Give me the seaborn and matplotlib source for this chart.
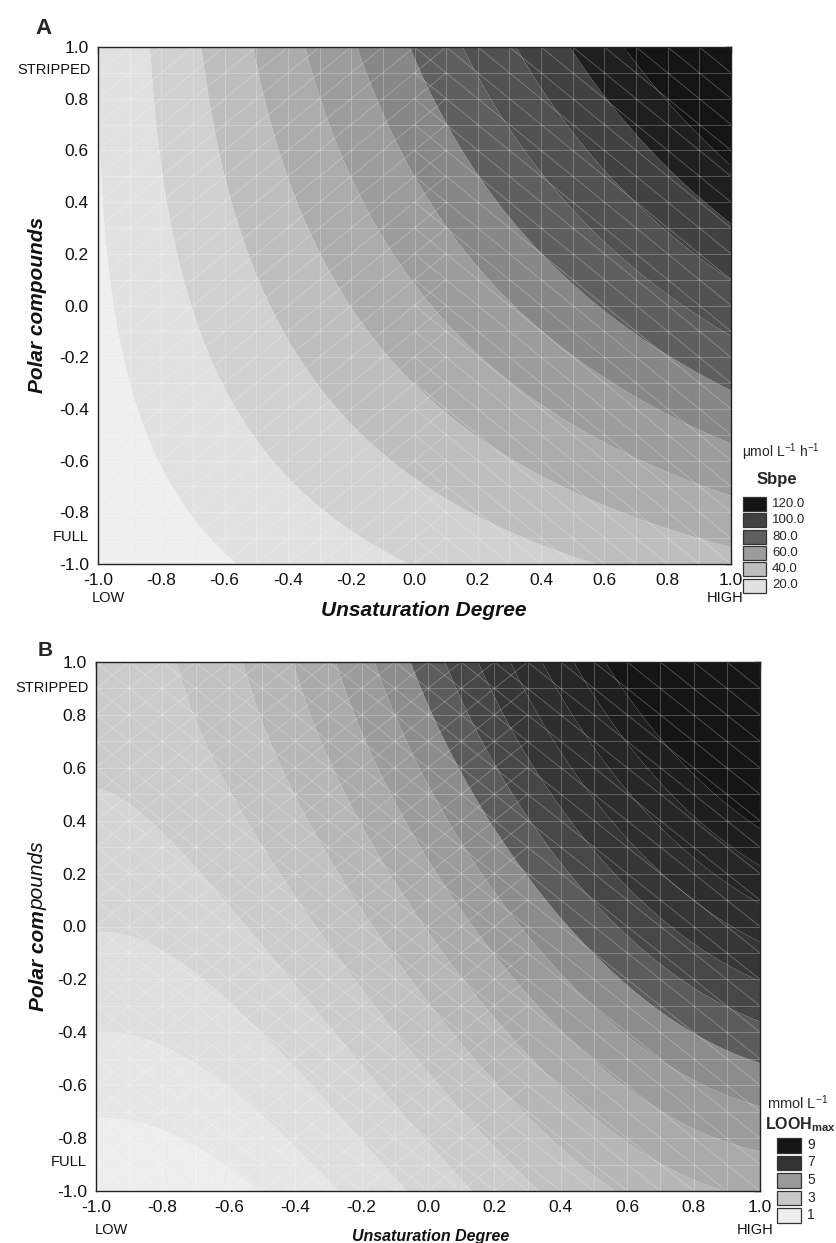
import numpy as np
import matplotlib
matplotlib.use("Agg")
import matplotlib.pyplot as plt
import seaborn as sns
from matplotlib.patches import Rectangle
from matplotlib.collections import LineCollection

sns.set_theme(style="white")
plt.rcParams['font.family'] = ['Liberation Sans', 'DejaVu Sans']
plt.rcParams['mathtext.fontset'] = 'custom'
plt.rcParams['mathtext.rm'] = 'Liberation Sans'
plt.rcParams['mathtext.bf'] = 'Liberation Sans:bold'
plt.rcParams['mathtext.default'] = 'regular'
plt.rcParams['axes.unicode_minus'] = False

# ---------------- Panel A data (Sbpe, contour crossings) ----
a_levels = [20, 30, 40, 50, 60, 70, 80, 90, 100, 110, 120]
a_colors = ['#efefef', '#e1e1e1', '#d1d1d1', '#bebebe', '#acacac', '#9c9c9c',
            '#878787', '#5f5f5f', '#515151', '#414141', '#1f1f1f', '#141414']
a_top_x = [-0.84, -0.675, -0.505, -0.348, -0.171, -0.014, 0.156, 0.31, 0.49, 0.67]
a_top_v = [30, 40, 50, 60, 70, 80, 90, 100, 110, 120]
a_right_y = [-0.94, -0.734, -0.494, -0.33, -0.114, 0.076, 0.30]
a_right_v = [50, 60, 70, 80, 90, 100, 110]
a_bot_x = [-0.54, -0.016, 0.50]
a_bot_v = [20, 30, 40]
a_left_y = [0.80]
a_left_v = [20]
a_leg_labels = ['120.0', '100.0', '80.0', '60.0', '40.0', '20.0']
a_leg_colors = ['#141414', '#414141', '#5f5f5f', '#9c9c9c', '#bebebe', '#e1e1e1']

# ---------------- Panel B data (LOOHmax, values read at sample points) ----
b_levels = [1, 1.5, 2, 2.5, 3, 3.5, 4, 4.5, 5, 5.5, 6, 6.5, 7, 7.5, 8, 8.5, 9]
b_colors = ['#f2f2f2', '#ededed', '#e6e6e6', '#dedede', '#d5d5d5', '#cbcbcb',
            '#c1c1c1', '#b6b6b6', '#aaaaaa', '#9b9b9b', '#8c8c8c', '#5c5c5c',
            '#474747', '#363636', '#2e2e2e', '#262626', '#1e1e1e', '#151515']
# top edge (y = 1)
b_top_x = [-1.0, -0.5, 0.0, 0.05, 0.2, 0.4, 0.7, 1.0]
b_top_v = [3.3, 4.1, 5.6, 6.3, 7.5, 9.0, 10.0, 11.0]
# right edge (x = 1)
b_right_y = [0.7, 0.4, 0.1, -0.3, -0.5, -0.75, -1.0]
b_right_v = [10.0, 9.0, 8.0, 7.0, 6.2, 5.3, 4.6]
# bottom edge (y = -1)
b_bot_x = [-1.0, -0.75, -0.5, 0.0, 0.5]
b_bot_v = [0.8, 1.3, 1.8, 2.7, 3.6]
# left edge (x = -1)
b_left_y = [-0.75, -0.5, 0.0, 0.5]
b_left_v = [1.3, 1.8, 2.5, 3.0]
# interior
b_in_x = [0.0, 0.5, -0.5, 0.5, -0.5, 0.5, 0.0, 0.7, -0.75, -0.75, -0.25, -0.75, -0.75]
b_in_y = [0.0, 0.5, -0.5, -0.5, 0.5, 0.0, 0.5, 0.7, -0.75, -0.25, -0.75, 0.0, 0.5]
b_in_v = [4.6, 8.0, 2.2, 4.8, 3.6, 5.8, 5.2, 9.2, 1.7, 2.5, 2.6, 2.8, 3.3]
b_leg_labels = ['9', '7', '5', '3', '1']
b_leg_colors = ['#151515', '#333333', '#999999', '#c8c8c8', '#eeeeee']

ticks = [-1.0, -0.8, -0.6, -0.4, -0.2, 0.0, 0.2, 0.4, 0.6, 0.8, 1.0]
tick_labels = ['-1.0', '-0.8', '-0.6', '-0.4', '-0.2', '0.0', '0.2', '0.4', '0.6', '0.8', '1.0']
minor_ticks = [-1, -5/6, -4/6, -3/6, -2/6, -1/6, 0, 1/6, 2/6, 3/6, 4/6, 5/6, 1]

W, H = 836, 1243
fig = plt.figure(figsize=(W / 100, H / 100), dpi=100)


def px_axes(l, t, r, b):
    return fig.add_axes([l / W, 1 - b / H, (r - l) / W, (b - t) / H])


def fx(px):
    return px / W


def fy(py):
    return 1 - py / H


def design(x, y, cubic):
    cols = [np.ones_like(x), x, y, x * y, x ** 2, y ** 2]
    if cubic:
        cols += [x ** 3, x ** 2 * y, x * y ** 2, y ** 3]
    return np.column_stack([c.ravel() for c in cols])


def fit_surface(xs, ys, vs, cubic=False):
    xs = np.asarray(xs, float); ys = np.asarray(ys, float); vs = np.asarray(vs, float)
    coef, *_ = np.linalg.lstsq(design(xs, ys, cubic), vs, rcond=None)
    return coef


def surface(coef, X, Y, cubic=False):
    return (design(X, Y, cubic) @ coef).reshape(X.shape)


def draw_mesh(ax, slash_max, back_min):
    segs = []
    g = np.round(np.arange(-1, 1.0001, 0.1), 6)
    for v in g[1:-1]:
        segs.append([(v, -1), (v, 1)])
        segs.append([(-1, v), (1, v)])
    for i in range(20):
        for j in range(20):
            x0, y0 = g[i], g[j]
            xc = x0 + 0.05
            if xc < slash_max:
                segs.append([(x0, y0), (x0 + 0.1, y0 + 0.1)])
            if xc > back_min:
                segs.append([(x0, y0 + 0.1), (x0 + 0.1, y0)])
    lc = LineCollection(segs, colors='white', linewidths=0.6, alpha=0.28, zorder=2)
    ax.add_collection(lc)


def style_axes(ax):
    ax.set_xlim(-1, 1)
    ax.set_ylim(-1, 1)
    ax.set_xticks(ticks)
    ax.set_xticklabels(tick_labels)
    ax.set_yticks(ticks)
    ax.set_yticklabels(tick_labels)
    ax.tick_params(axis='both', which='major', direction='out', length=4.5, width=1,
                   color='#222222', labelsize=12.5, pad=2, labelcolor='#111111')
    for s in ax.spines.values():
        s.set_color('#222222')
        s.set_linewidth(1.0)
        s.set_visible(True)
    sec_x = ax.secondary_xaxis('top')
    sec_x.set_xticks(minor_ticks)
    sec_x.tick_params(direction='in', length=4, width=1, color='#222222', labeltop=False)
    sec_x.set_xticklabels([])
    sec_y = ax.secondary_yaxis('right')
    sec_y.set_yticks(minor_ticks)
    sec_y.tick_params(direction='in', length=4, width=1, color='#222222', labelright=False)
    sec_y.set_yticklabels([])
    for sec in (sec_x, sec_y):
        for s in sec.spines.values():
            s.set_visible(False)


xg = np.linspace(-1, 1, 401)
X, Y = np.meshgrid(xg, xg)

# ---------------- Panel A ----------------
axA = px_axes(98, 47, 731, 564)
ax_x = a_top_x + [1.0] * len(a_right_y) + a_bot_x + [-1.0] * len(a_left_y)
ax_y = [1.0] * len(a_top_x) + a_right_y + [-1.0] * len(a_bot_x) + a_left_y
ax_v = a_top_v + a_right_v + a_bot_v + a_left_v
coefA = fit_surface(ax_x, ax_y, ax_v)
ZA = surface(coefA, X, Y)
lvA = [min(ZA.min(), a_levels[0]) - 1] + a_levels + [max(ZA.max(), a_levels[-1]) + 1]
axA.contourf(X, Y, ZA, levels=lvA, colors=a_colors, antialiased=True)
draw_mesh(axA, 0.15, -0.05)
style_axes(axA)

# ---------------- Panel B ----------------
axB = px_axes(96, 662, 760, 1191)
bx = b_top_x + [1.0] * len(b_right_y) + b_bot_x + [-1.0] * len(b_left_y) + b_in_x
by = [1.0] * len(b_top_x) + b_right_y + [-1.0] * len(b_bot_x) + b_left_y + b_in_y
bv = b_top_v + b_right_v + b_bot_v + b_left_v + b_in_v
coefB = fit_surface(bx, by, bv, cubic=True)
ZB = surface(coefB, X, Y, cubic=True)
lvB = [min(ZB.min(), b_levels[0]) - 1] + b_levels + [max(ZB.max(), b_levels[-1]) + 1]
axB.contourf(X, Y, ZB, levels=lvB, colors=b_colors, antialiased=True)
draw_mesh(axB, 0.3, -1.1)
style_axes(axB)

# ---------------- texts ----------------
small = 10.5
for l, strip_py, full_py, low_px, low_py, high_px, high_py in [
        (98, 70, 537, 92, 598, 744, 598),
        (96, 688, 1162, 95, 1230, 773, 1230)]:
    fig.text(fx(l - 7), fy(strip_py), 'STRIPPED', ha='right', va='center', fontsize=small, color='#111111')
    fig.text(fx(l - 9), fy(full_py), 'FULL', ha='right', va='center', fontsize=small, color='#111111')
    fig.text(fx(low_px), fy(low_py), 'LOW', ha='left', va='center', fontsize=small, color='#111111')
    fig.text(fx(high_px), fy(high_py), 'HIGH', ha='right', va='center', fontsize=small, color='#111111')

fig.text(fx(44), fy(29), 'A', ha='center', va='center', fontsize=16, fontweight='bold')
fig.text(fx(45), fy(650), 'B', ha='center', va='center', fontsize=15, fontweight='bold')

fig.text(fx(424), fy(610), 'Unsaturation Degree', ha='center', va='center',
         fontsize=15, fontweight='bold', fontstyle='italic', color='#111111')
fig.text(fx(38), fy(305), 'Polar compounds', ha='center', va='center', rotation=90,
         fontsize=15, fontweight='bold', fontstyle='italic', color='#111111')
fig.text(fx(431), fy(1236), 'Unsaturation Degree', ha='center', va='center',
         fontsize=11.5, fontweight='bold', fontstyle='italic', color='#111111')
t1 = fig.text(fx(38), fy(1011), 'Polar com', ha='center', va='bottom', rotation=90,
              fontsize=15, fontweight='bold', fontstyle='italic', color='#111111')
axB.annotate('pounds', xy=(0.5, 1.0), xycoords=t1, ha='center', va='bottom', rotation=90,
             fontsize=15, fontstyle='italic', color='#111111', annotation_clip=False)

# ---------------- legends ----------------
fig.text(fx(742), fy(452), r'μmol L$^{-1}$ h$^{-1}$', ha='left', va='center', fontsize=10)
fig.text(fx(777), fy(480), 'Sbpe', ha='center', va='center', fontsize=12, fontweight='bold')
for i, (lab, col) in enumerate(zip(a_leg_labels, a_leg_colors)):
    top = 497 + i * 16.3
    fig.add_artist(Rectangle((fx(743), fy(top + 14)), 23 / W, 14 / H, transform=fig.transFigure,
                             facecolor=col, edgecolor='#333333', linewidth=0.9))
    fig.text(fx(772), fy(top + 7), lab, ha='left', va='center', fontsize=9.5)

fig.text(fx(767), fy(1103), r'mmol L$^{-1}$', ha='left', va='center', fontsize=10.5)
fig.text(fx(765), fy(1125), r'LOOH$_{\mathbf{max}}$', ha='left', va='center', fontsize=11.5,
         fontweight='bold')
for i, (lab, col) in enumerate(zip(b_leg_labels, b_leg_colors)):
    top = 1138 + i * 17.5
    fig.add_artist(Rectangle((fx(777), fy(top + 14.5)), 24 / W, 14.5 / H, transform=fig.transFigure,
                             facecolor=col, edgecolor='#333333', linewidth=0.9))
    fig.text(fx(807), fy(top + 7), lab, ha='left', va='center', fontsize=10)

fig.savefig('out.png', dpi=100)
